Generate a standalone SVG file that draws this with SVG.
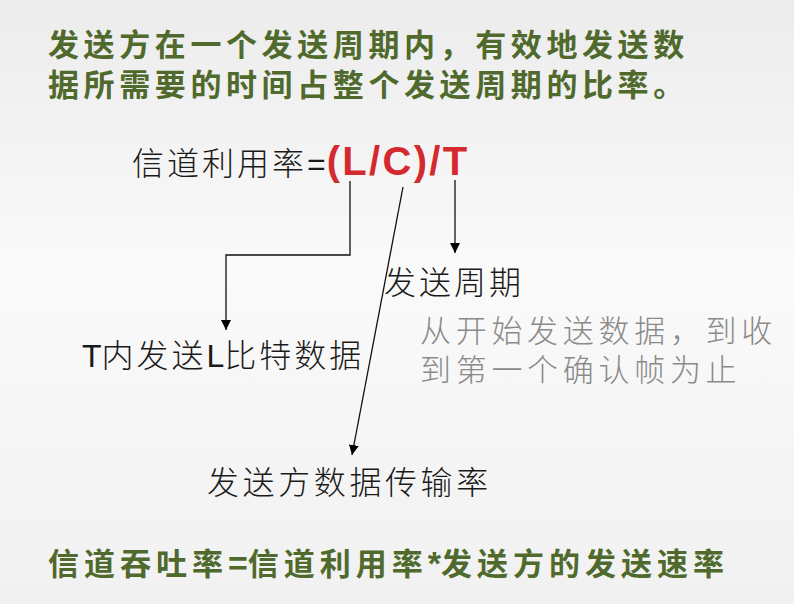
<svg xmlns="http://www.w3.org/2000/svg" width="794" height="604" viewBox="0 0 794 604">
  <defs>
    <linearGradient id="bg" x1="0" y1="0" x2="0" y2="1">
      <stop offset="0" stop-color="#ececec"/>
      <stop offset="0.45" stop-color="#fafafa"/>
      <stop offset="1" stop-color="#f1f1f1"/>
    </linearGradient>
    <marker id="arr" viewBox="0 0 10 10" refX="10" refY="5" markerWidth="10" markerHeight="10" markerUnits="userSpaceOnUse" orient="auto">
      <path d="M0,0 L10,5 L0,10 Z" fill="#000"/>
    </marker>
    <style>
      .title { font-family: "Noto Sans CJK SC", "Liberation Sans", sans-serif; font-weight: 700; font-size: 31px; letter-spacing: 4.6px; fill: #4f6a2c; }
      .lbl { font-family: "Noto Sans CJK SC", "Liberation Sans", sans-serif; font-weight: 300; font-size: 32px; letter-spacing: 3px; fill: #1a1a1a; }
      .note { font-family: "Noto Sans CJK SC", "Liberation Sans", sans-serif; font-weight: 300; font-size: 31px; letter-spacing: 4.7px; fill: #8a8a8a; }
      .red { font-family: "Liberation Sans", "Noto Sans CJK SC", sans-serif; font-weight: 700; font-size: 40px; letter-spacing: 2.3px; fill: #d42a2f; }
      .lat { font-family: "Liberation Sans", sans-serif; letter-spacing: 0; }
      .conn { fill: none; stroke: #111; stroke-width: 1.3; }
    </style>
  </defs>
  <rect x="0" y="0" width="794" height="604" fill="url(#bg)"/>

  <g id="title">
    <text class="title"><tspan x="48" y="56">发送方在一个发送周期内，有效地发送数</tspan><tspan x="48" y="96">据所需要的时间占整个发送周期的比率。</tspan></text>
  </g>

  <g id="formula">
    <text x="132" y="175"><tspan class="lbl">信道利用率</tspan><tspan class="lbl lat" font-size="30">=</tspan><tspan class="red" dx="1">(L/C)/T</tspan></text>
  </g>

  <g id="period">
    <text class="lbl" x="384" y="294">发送周期</text>
  </g>

  <g id="period-note">
    <text class="note"><tspan x="420" y="342">从开始发送数据，到收</tspan><tspan x="420" y="381">到第一个确认帧为止</tspan></text>
  </g>

  <g id="bits">
    <text class="lbl" x="82" y="367"><tspan class="lat">T</tspan>内发送<tspan class="lat">L</tspan>比特数据</text>
  </g>

  <g id="rate">
    <text class="lbl" x="207" y="494" style="letter-spacing:3.6px">发送方数据传输率</text>
  </g>

  <g id="throughput">
    <text class="title" x="48" y="575" style="letter-spacing:5px">信道吞吐率<tspan class="lat" style="font-size:34px">=</tspan>信道利用率<tspan class="lat" style="font-size:34px">*</tspan>发送方的发送速率</text>
  </g>

  <g id="connectors">
    <path class="conn" d="M350,181 V255 H226 V330" marker-end="url(#arr)"/>
    <path class="conn" d="M403,187 L352,455" marker-end="url(#arr)"/>
    <path class="conn" d="M455,180 V253" marker-end="url(#arr)"/>
  </g>
</svg>
